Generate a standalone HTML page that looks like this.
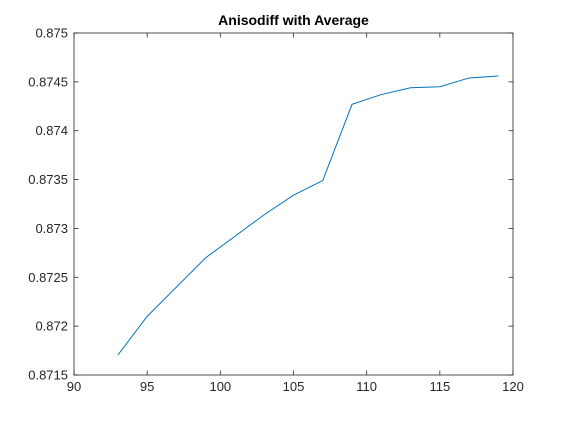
<!DOCTYPE html>
<html><head><meta charset="utf-8"><style>
body{margin:0;background:#fff;}
svg text{font-family:"Liberation Sans",sans-serif;}
</style></head><body>
<svg id="chart" width="568" height="423" xmlns="http://www.w3.org/2000/svg">
<rect x="0" y="0" width="568" height="423" fill="#fff"/>
<rect x="74" y="33" width="439" height="342" fill="#fff" stroke="#262626" stroke-width="0.8"/>
<text x="293.5" y="25" text-anchor="middle" font-size="14" font-weight="bold" fill="#000">Anisodiff with Average</text>
<g id="xt"></g>
<g id="yt"></g>
<polyline id="line" fill="none" stroke="#0072bd" stroke-width="1"/>
</svg>
<script>
const xs=[93,95,97,99,101,103,105,107,109,111,113,115,117,119];
const ys=[0.871705,0.87210,0.87240,0.87270,0.87292,0.87314,0.87334,0.87349,0.87427,0.87437,0.87444,0.87445,0.87454,0.87456];
const xTicks=[90,95,100,105,110,115,120];
const yTicks=[0.8715,0.872,0.8725,0.873,0.8735,0.874,0.8745,0.875];
const yLabels=["0.8715","0.872","0.8725","0.873","0.8735","0.874","0.8745","0.875"];
const L=74,R=513,T=33,B=375;
function sx(v){return L+(v-90)/30*(R-L);}
function sy(v){return B-(v-0.8715)/0.0035*(B-T);}
const NS="http://www.w3.org/2000/svg";
const xt=document.getElementById('xt'),yt=document.getElementById('yt');
function mk(t,a){const e=document.createElementNS(NS,t);for(const k in a)e.setAttribute(k,a[k]);return e;}
xTicks.forEach(v=>{const x=sx(v);
const t1=mk('line',{x1:x,x2:x,y1:B,y2:B-4.5,stroke:'#262626','stroke-width':0.8});


xt.appendChild(t1);
const t2=mk('line',{x1:x,x2:x,y1:T,y2:T+4.5,stroke:'#262626','stroke-width':0.8});


xt.appendChild(t2);
const tx=mk('text',{x:x,y:B+16,'text-anchor':'middle','font-size':13,fill:'#262626'});
tx.textContent=v;


xt.appendChild(tx);});
yTicks.forEach((v,i)=>{const y=sy(v);
const t1=mk('line',{x1:L,x2:L+4.5,y1:y,y2:y,stroke:'#262626','stroke-width':0.8});


yt.appendChild(t1);
const t2=mk('line',{x1:R,x2:R-4.5,y1:y,y2:y,stroke:'#262626','stroke-width':0.8});


yt.appendChild(t2);
const tx=mk('text',{x:L-6,y:y+4.5,'text-anchor':'end','font-size':13,fill:'#262626'});
tx.textContent=yLabels[i];


yt.appendChild(tx);});
document.getElementById('line').setAttribute('points',xs.map((x,i)=>sx(x)+','+sy(ys[i])).join(' '));
</script>
</body></html>
